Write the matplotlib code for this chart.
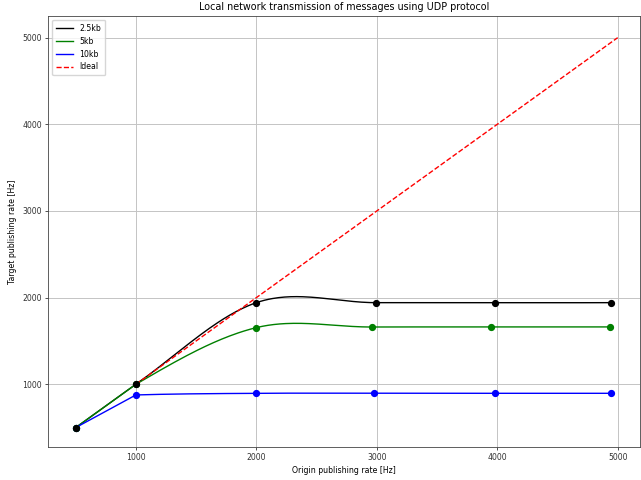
import numpy as np
import matplotlib
matplotlib.use("Agg")
import matplotlib.pyplot as plt

# measured points (origin rate -> target rate)
x_25 = [500, 1000, 2000, 2990, 3980, 4944]
y_25 = [500, 1000, 1942, 1942, 1940, 1942]

x_5 = [500, 1000, 2000, 2957, 3950, 4940]
y_5 = [500, 1000, 1654, 1661, 1662, 1662]

x_10 = [500, 1000, 2000, 2976, 3980, 4944]
y_10 = [500, 877, 896, 897, 896, 896]

x_ideal = [1000, 2000, 3000, 4000, 5000]
y_ideal = [1000, 2000, 3000, 4000, 5000]


def smooth(xs, ys, num=60):
    """Straight first segment, then a cubic Hermite curve through the rest."""
    xs = np.asarray(xs, float)
    ys = np.asarray(ys, float)
    n = len(xs)
    m = np.diff(ys) / np.diff(xs)
    d = np.empty(n)
    d[-1] = m[-1]
    d[2:-1] = (ys[3:] - ys[1:-2]) / (xs[3:] - xs[1:-2])
    # knee point: weighted harmonic mean of the two secants
    h0, h1 = xs[1] - xs[0], xs[2] - xs[1]
    w1, w2 = 2 * h1 + h0, h1 + 2 * h0
    d[1] = (w1 + w2) / (w1 / m[0] + w2 / m[1])
    xo, yo = [xs[:1]], [ys[:1]]
    for i in range(1, n - 1):
        h = xs[i + 1] - xs[i]
        t = np.linspace(0, 1, num)
        h00 = 2 * t ** 3 - 3 * t ** 2 + 1
        h10 = t ** 3 - 2 * t ** 2 + t
        h01 = -2 * t ** 3 + 3 * t ** 2
        h11 = t ** 3 - t ** 2
        xo.append(xs[i] + t * h)
        yo.append(h00 * ys[i] + h10 * h * d[i] + h01 * ys[i + 1] + h11 * h * d[i + 1])
    return np.concatenate(xo), np.concatenate(yo)


fig = plt.figure(figsize=(6.41, 4.8), dpi=100)
ax = fig.add_axes([0.0754, 0.0694, 0.923, 0.8973])

lw = 1.0
for xs, ys, col, lab in [(x_25, y_25, "black", "2.5kb"),
                         (x_5, y_5, "green", "5kb"),
                         (x_10, y_10, "blue", "10kb")]:
    xf, yf = smooth(xs, ys)
    ax.plot(xf, yf, color=col, lw=lw, label=lab)

ax.plot(x_ideal, y_ideal, "r--", lw=lw, label="Ideal")

for xs, ys, col in [(x_10, y_10, "blue"), (x_5, y_5, "green"), (x_25, y_25, "black")]:
    ax.plot(xs, ys, "o", color=col, ms=4.2, zorder=3)

ax.set_xlim(273, 5185)
ax.set_ylim(280, 5250)
ax.set_xticks([1000, 2000, 3000, 4000, 5000])
ax.set_yticks([1000, 2000, 3000, 4000, 5000])
ax.tick_params(labelsize=5.6, length=2.5, width=0.6, pad=2, colors="#333333")
ax.grid(True, color="#c4c4c4", lw=0.7)
for s in ax.spines.values():
    s.set_linewidth(0.6)
    s.set_color("#444444")

ax.set_title("Local network transmission of messages using UDP protocol", fontsize=6.9, pad=4)
ax.set_xlabel("Origin publishing rate [Hz]", fontsize=5.6, labelpad=3)
ax.set_ylabel("Target publishing rate [Hz]", fontsize=5.6, labelpad=4)
ax.legend(loc="upper left", fontsize=5.6, handlelength=2.2, borderpad=0.5, labelspacing=0.5)

plt.savefig("out.png", dpi=100)
